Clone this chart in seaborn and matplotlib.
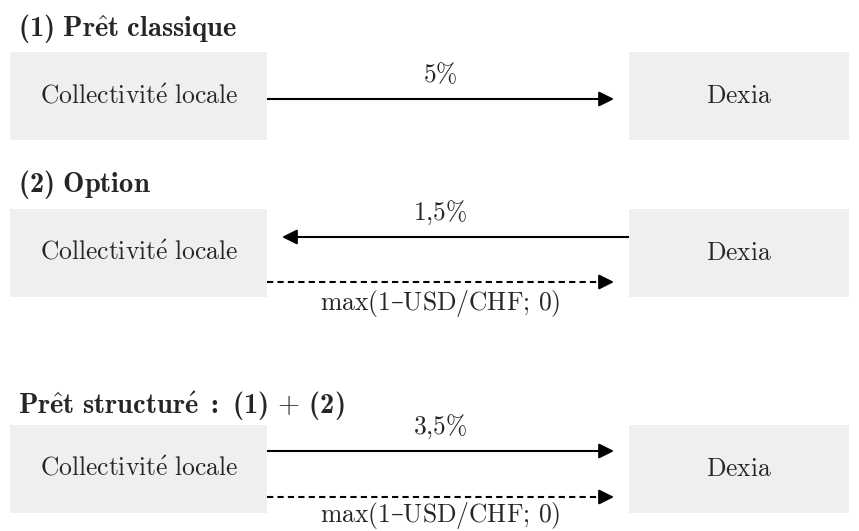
import matplotlib
matplotlib.use("Agg")
import matplotlib.pyplot as plt
import seaborn as sns
from matplotlib.patches import Rectangle

# =====================================
# Texts of the diagram
# =====================================

section_titles = [
    r"$\mathbf{(1)\ Pr\hat{e}t\ classique}$",
    r"$\mathbf{(2)\ Option}$",
    r"$\mathbf{Pr\hat{e}t\ structur\acute{e}\ {:}\ (1)}\,+\,\mathbf{(2)}$",
]
left_party = r"$\mathrm{Collectivit\acute{e}\ locale}$"
right_party = r"$\mathrm{Dexia}$"
rate_labels = [r"$\mathrm{5\%}$", r"$\mathrm{1{,}5\%}$", r"$\mathrm{3{,}5\%}$"]
# direction of the rate flow: +1 = towards Dexia, -1 = towards the collectivité
rate_direction = [1, -1, 1]
option_label = r"$\mathrm{max(1}$–$\mathrm{USD/CHF;\,0)}$"
has_option = [False, True, True]

sns.set_theme(style="white")
plt.rcParams["mathtext.fontset"] = "custom"
plt.rcParams["mathtext.rm"] = "cmr10"
plt.rcParams["mathtext.bf"] = "cmb10"
plt.rcParams["mathtext.it"] = "cmmi10"
plt.rcParams["mathtext.fallback"] = "cm"

fig = plt.figure(figsize=(8.59, 5.31), dpi=100)
ax = fig.add_axes([0, 0, 1, 1])
ax.set_xlim(0, 859)
ax.set_ylim(531, 0)
ax.axis("off")

box_color = "#efefef"
fs = 18.4
fs_title = 20.5

# layout of each row (pixels)
title_y = [36, 192, 414]
box_top = [52, 209, 425]
box_h = 88
rate_y = [99, 237, 451]
opt_y = [None, 282, 497]
opt_label_offset = [None, 28, 25]

left_x0, left_x1 = 10, 267
right_x0, right_x1 = 629, 849
tip_gap = 15
head = 12

head_style = "-|>,head_length=0.6,head_width=0.3"


def arrow(x0, x1, y, dashed=False):
    d = 1 if x1 > x0 else -1
    ax.plot([x0, x1 - d * head], [y, y], color="black", lw=1.5,
            ls=(0, (3, 2)) if dashed else "-", solid_capstyle="butt",
            dash_capstyle="butt")
    ax.annotate("", xy=(x1, y), xytext=(x1 - d * head, y),
                arrowprops=dict(arrowstyle=head_style, mutation_scale=15,
                                color="black", lw=1.5, shrinkA=0, shrinkB=0))


for i in range(3):
    ax.text(18, title_y[i], section_titles[i], fontsize=fs_title, va="baseline", ha="left")
    top = box_top[i]
    ax.add_patch(Rectangle((left_x0, top), left_x1 - left_x0, box_h, color=box_color, lw=0))
    ax.add_patch(Rectangle((right_x0, top), right_x1 - right_x0, box_h, color=box_color, lw=0))
    ax.text((left_x0 + left_x1) / 2, top + box_h / 2, left_party, fontsize=fs,
            ha="center", va="center")
    ax.text((right_x0 + right_x1) / 2, top + box_h / 2, right_party, fontsize=fs,
            ha="center", va="center")

    mid = (left_x1 + right_x0 - tip_gap) / 2
    y = rate_y[i]
    if rate_direction[i] > 0:
        arrow(left_x1, right_x0 - tip_gap, y)
    else:
        arrow(right_x0, left_x1 + tip_gap, y)
    ax.text(mid, y - 17, rate_labels[i], fontsize=fs, ha="center", va="baseline")

    if has_option[i]:
        y2 = opt_y[i]
        arrow(left_x1, right_x0 - tip_gap, y2, dashed=True)
        ax.text(mid, y2 + opt_label_offset[i], option_label, fontsize=fs,
                ha="center", va="baseline", family="DejaVu Serif")

fig.savefig("out.png", dpi=100, facecolor="white")
